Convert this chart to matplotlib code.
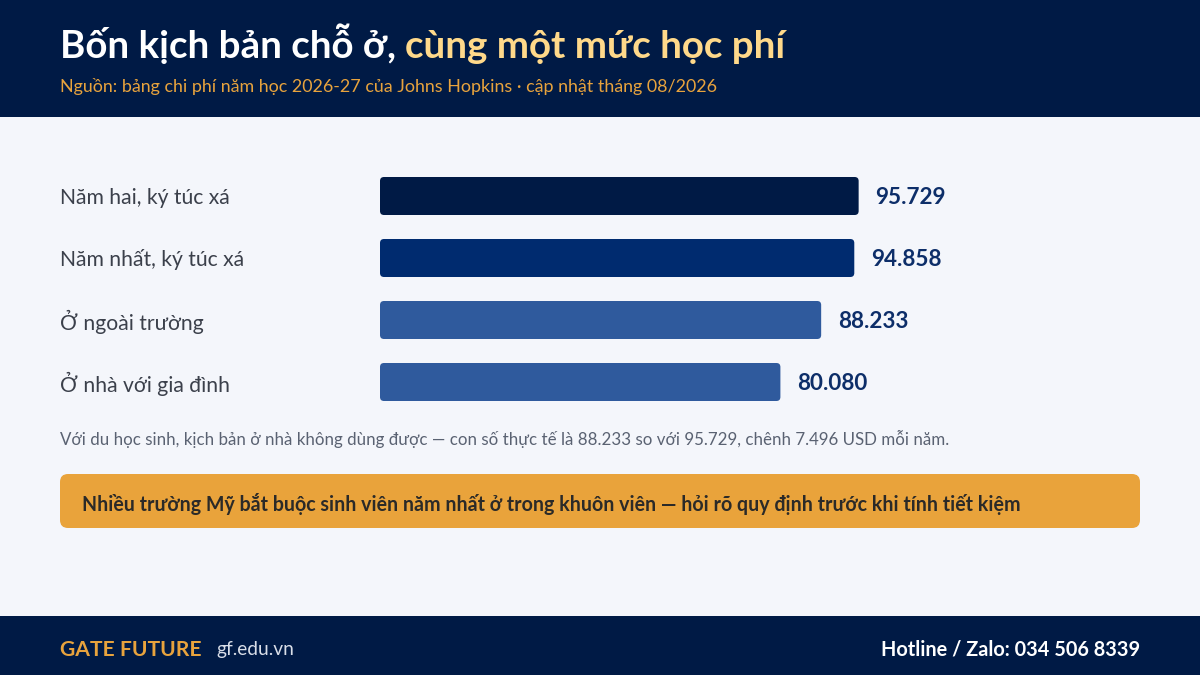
import matplotlib
matplotlib.use("Agg")
import matplotlib.pyplot as plt
from matplotlib.patches import FancyBboxPatch, Rectangle
from matplotlib.transforms import blended_transform_factory

plt.rcParams['font.family'] = ['Lato', 'DejaVu Sans']

# ---- data ----
categories = ["Năm hai, ký túc xá", "Năm nhất, ký túc xá", "Ở ngoài trường", "Ở nhà với gia đình"]
values = [95729, 94858, 88233, 80080]
bar_colors = ["#001a45", "#002b6f", "#2f5a9d", "#2f5a9d"]

title_a = "Bốn kịch bản chỗ ở, "
title_b = "cùng một mức học phí"
subtitle = "Nguồn: bảng chi phí năm học 2026-27 của Johns Hopkins · cập nhật tháng 08/2026"
footnote = "Với du học sinh, kịch bản ở nhà không dùng được — con số thực tế là 88.233 so với 95.729, chênh 7.496 USD mỗi năm."
callout = "Nhiều trường Mỹ bắt buộc sinh viên năm nhất ở trong khuôn viên — hỏi rõ quy định trước khi tính tiết kiệm"
brand = "GATE FUTURE"
site = "gf.edu.vn"
hotline = "Hotline / Zalo: 034 506 8339"

W, H = 1200, 675
fig = plt.figure(figsize=(12, 6.75), dpi=100)
fig.patch.set_facecolor("#f4f6fb")

def fx(px):
    return px / W

def fy(py):
    return 1 - py / H

NAVY = "#001a45"
fig.patches.append(Rectangle((0, fy(117)), 1, 117 / H, transform=fig.transFigure,
                             facecolor=NAVY, edgecolor="none", zorder=0))
fig.patches.append(Rectangle((0, 0), 1, (H - 616) / H, transform=fig.transFigure,
                             facecolor=NAVY, edgecolor="none", zorder=0))

# title (two colours)
t1 = fig.text(fx(60), fy(58), title_a, color="white", fontsize=27.7, fontweight="bold",
              va="baseline", ha="left")
fig.canvas.draw()
r = fig.canvas.get_renderer()
bb = t1.get_window_extent(renderer=r)
fig.text(bb.x1 / W, fy(58), title_b, color="#ffd98a", fontsize=27.7, fontweight="bold",
         va="baseline", ha="left")
fig.text(fx(60), fy(92), subtitle, color="#e8a33d", fontsize=12.9, va="baseline", ha="left")

# bars axes: x 380..880 px -> 0..100000, y 165..413 px
ax = fig.add_axes([fx(380), fy(413), 500 / W, 248 / H])
ax.set_xlim(0, 100000)
ax.set_ylim(3.5, -0.5)
ax.axis("off")
ax.patch.set_alpha(0)

bar_h = 38 / 62
xpp = 100000 / 500
ypp = 1 / 62
rad_px = 4
for i, (v, c) in enumerate(zip(values, bar_colors)):
    p = FancyBboxPatch((0, i - bar_h / 2), v, bar_h,
                       boxstyle=f"round,pad=0,rounding_size={rad_px * xpp}",
                       mutation_aspect=ypp / xpp, facecolor=c, edgecolor="none")
    ax.add_patch(p)
    ax.annotate(f"{v:,}".replace(",", "."), xy=(v, i), xytext=(12, 0),
                textcoords="offset points", va="center_baseline", ha="left",
                fontsize=16.2, fontweight="bold", color="#0d2e69")

lab_tr = blended_transform_factory(fig.transFigure, ax.transData)
for i, cat in enumerate(categories):
    ax.text(fx(60), i, cat, transform=lab_tr, va="center_baseline", ha="left",
            fontsize=15.2, color="#3b404b")

fig.text(fx(60), fy(437), footnote, color="#5a6272", fontsize=12.2,
         va="center_baseline", ha="left")

fig.patches.append(FancyBboxPatch((fx(60), fy(528)), fx(1080), 54 / H,
                                  boxstyle=f"round,pad=0,rounding_size={fx(8)}",
                                  mutation_aspect=(1 / H) / (1 / W),
                                  transform=fig.transFigure, facecolor="#e9a33b",
                                  edgecolor="none", zorder=1))
fig.text(fx(82), fy(502), callout, color="#2b2a28", fontsize=14.1, fontweight="bold",
         va="center_baseline", ha="left", zorder=2)

fig.text(fx(60), fy(648), brand, color="#e8a33d", fontsize=15.2, fontweight="bold",
         va="center_baseline", ha="left")
fig.text(fx(216), fy(648), site, color="#d9dee8", fontsize=13.8,
         va="center_baseline", ha="left")
fig.text(fx(1140), fy(648), hotline, color="white", fontsize=14.3, fontweight="bold",
         va="center_baseline", ha="right")

fig.savefig("out.png", dpi=100, facecolor=fig.get_facecolor())
